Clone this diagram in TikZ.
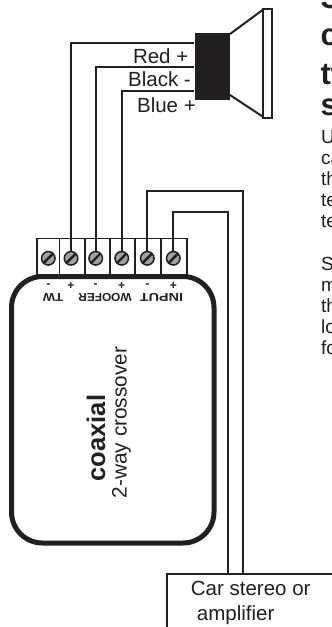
\documentclass[tikz,border=0pt]{standalone}
\usepackage{fontspec}
\setmainfont{Liberation Sans}
\usetikzlibrary{calc}
\definecolor{ink}{HTML}{231F20}
\definecolor{screwgray}{HTML}{A0A0A0}
\tikzset{
  wire/.style={draw=ink, line width=1.8pt},
  lbl/.style={font=\fontsize{20.5}{24}\selectfont, text=ink, inner sep=0pt},
  screw/.style={circle, draw=ink, line width=1.5pt, fill=screwgray, minimum size=13.5pt, inner sep=0pt},
  pm/.style={font=\bfseries\fontsize{12}{14}\selectfont, text=ink, inner sep=0pt},
  updown/.style={font=\bfseries\fontsize{11.5}{13}\selectfont, text=ink, inner sep=0pt, rotate=180},
  heading/.style={font=\bfseries\fontsize{31}{35}\selectfont, text=ink, inner sep=0pt, anchor=base west},
  body/.style={font=\fontsize{19}{21}\selectfont, text=ink, inner sep=0pt, anchor=base west},
}
\begin{document}
\begin{tikzpicture}[x=1pt,y=-1pt]
\useasboundingbox (0,0) rectangle (332,627);
\fill[white] (0,0) rectangle (332,627);
\begin{scope}
\clip (0,0) rectangle (332,627);
% ---------- speaker ----------
\node[fill=ink, draw=none, minimum width=35.7pt, minimum height=67.7pt, inner sep=0pt, anchor=north west] (mag) at (194.3,32.3) {};
\draw[ink, line width=2pt, line join=miter] (230,34) -- (263.3,9.5);
\draw[ink, line width=2pt, line join=miter] (230,95) -- (263.3,117);
\draw[ink, line width=2pt, fill=white] (263.3,8.8) rectangle (272.3,117.8);
% ---------- terminal block ----------
\draw[ink, line width=1.6pt] (36.7,238.3) rectangle (186.7,274.5);
\foreach \xx in {59.3,85,110,135,161} \draw[ink, line width=1.6pt] (\xx,238.3) -- (\xx,274.5);
\foreach \i/\xx in {1/48.3,2/71,3/95.7,4/121.7,5/147.3,6/173.3}{
  \node[screw] (s\i) at (\xx,258.3) {};
  \draw[ink, line width=2.4pt] ($(s\i.center)+(-4.7,4.7)$) -- ($(s\i.center)+(4.7,-4.7)$);
}
% ---------- crossover body ----------
\draw[ink, line width=5pt, rounded corners=31pt] (11.5,276.5) rectangle (214,543);
\foreach \xx/\s in {48.3/-,71/+,95.7/-,121.7/+,147.3/-,173.3/+}
  \node[pm] at (\xx,286) {\s};
\node[updown, xscale=1.12] (tw) at (53,297) {TW};
\node[updown, xscale=1.03] (woofer) at (105,297) {WOOFER};
\node[updown, xscale=1.25] (input) at (161.5,297) {INPUT};
\node[font=\bfseries\fontsize{25.5}{28}\selectfont, text=ink, inner sep=0pt, rotate=90, anchor=base] (coax) at (105,438) {coaxial};
\node[font=\fontsize{20.8}{24}\selectfont, text=ink, inner sep=0pt, rotate=90, anchor=base] (xover) at (126.5,422.5) {2-way crossover};
% ---------- amplifier box ----------
\node[draw=ink, line width=1.8pt, minimum width=200pt, minimum height=80pt, anchor=north west, inner sep=0pt] (amp) at (165.7,573.3) {};
\node[lbl, anchor=base west] (amp1) at (190.7,595) {Car stereo or};
\node[lbl, anchor=base west] (amp2) at (196.7,620) {amplifier};
% ---------- wires ----------
\coordinate (r) at (194.3,43.3);
\coordinate (k) at (194.3,66.7);
\coordinate (b) at (194.3,91);
\draw[wire] (s2.north) |- (r);
\draw[wire] (s3.north) |- (k);
\draw[wire] (s4.north) |- (b);
\coordinate (c5) at (242.7,190.7);
\coordinate (c6) at (228.3,211.7);
\draw[wire] (s5.north) |- (c5) -- (c5 |- amp.north);
\draw[wire] (s6.north) |- (c6) -- (c6 |- amp.north);
\node[lbl, anchor=base east] (red) at (188.5,63.3) {Red +};
\node[lbl, anchor=base east] (black) at (191,86) {Black -};
\node[lbl, anchor=base east] (blue) at (196,112.7) {Blue +};
% ---------- clipped side text ----------
\node[heading] at (320.3,8.3) {S};
\node[heading] at (320.3,45.5) {c};
\node[heading] at (320.3,84) {tw};
\node[heading] at (320.3,115) {s};
\node[body] at (321,143) {U};
\node[body] at (321,164) {ca};
\node[body] at (321,185) {th};
\node[body] at (321,206) {te};
\node[body] at (321,227) {te};
\node[body] at (321,270) {S};
\node[body] at (321,291) {m};
\node[body] at (321,312) {th};
\node[body] at (321,333) {lo};
\node[body] at (321,354) {fo};
\end{scope}
\end{tikzpicture}
\end{document}
